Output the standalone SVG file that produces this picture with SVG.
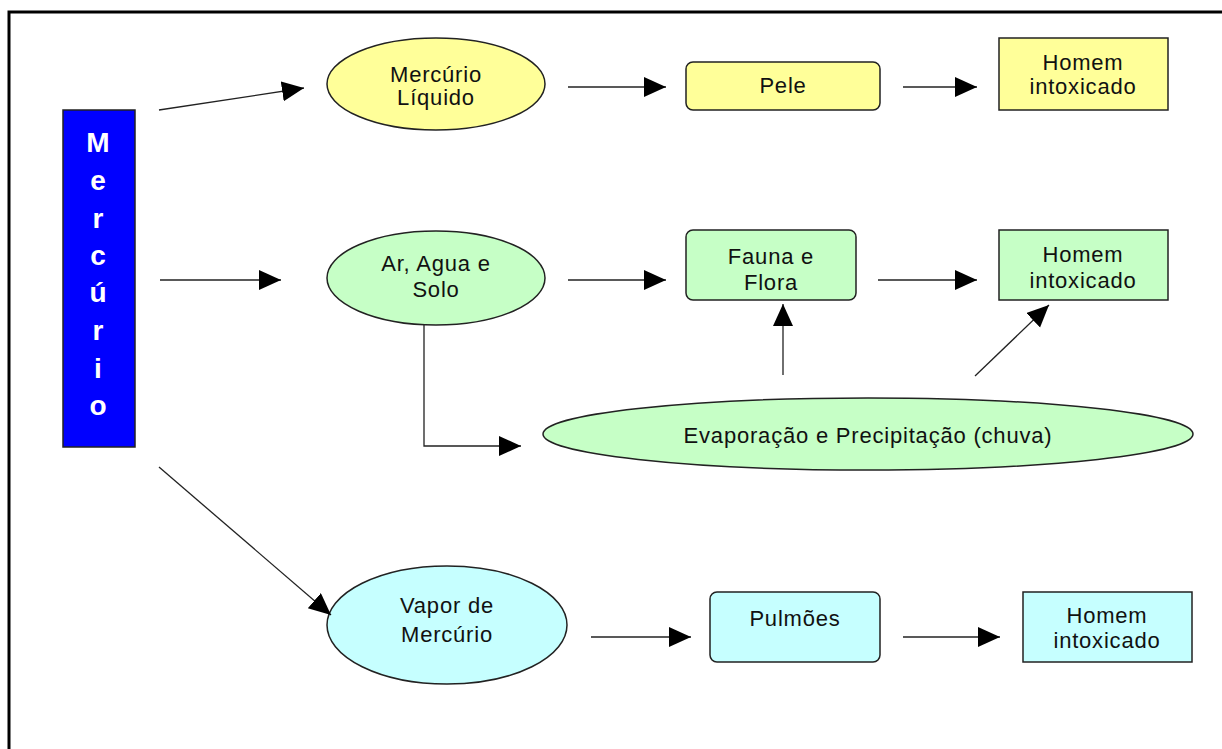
<svg xmlns="http://www.w3.org/2000/svg" width="1222" height="749" viewBox="0 0 1222 749">
<style>
.t{font-family:"Liberation Sans",Arial,sans-serif;font-size:22px;fill:#111;text-anchor:middle;letter-spacing:0.8px}
.m{font-family:"Liberation Sans",Arial,sans-serif;font-size:28px;font-weight:bold;fill:#fff;text-anchor:middle}
.sh{stroke:#222;stroke-width:1.5}
.y{fill:#ffff99}.g{fill:#c6ffc6}.c{fill:#c6ffff}
.ln{fill:none;stroke:#222;stroke-width:1.3}
</style>
<defs>
<marker id="ah" markerUnits="userSpaceOnUse" markerWidth="24" markerHeight="22" refX="22" refY="10" orient="auto">
<path d="M0,0 L22,10 L0,20 Z" fill="#000"/>
</marker>
</defs>
<rect x="0" y="0" width="1222" height="749" fill="#fff"/>
<rect x="9" y="12" width="1240" height="770" fill="none" stroke="#000" stroke-width="3"/>

<g id="mercurio">
<rect x="63" y="110" width="72" height="337" fill="#0000ff" stroke="#222" stroke-width="1.5"/>
<text class="m" x="98" y="152">M</text>
<text class="m" x="98" y="190">e</text>
<text class="m" x="98" y="228">r</text>
<text class="m" x="98" y="265">c</text>
<text class="m" x="98" y="302">ú</text>
<text class="m" x="98" y="340">r</text>
<text class="m" x="98" y="378">i</text>
<text class="m" x="98" y="415">o</text>
</g>

<g id="liquido">
<ellipse cx="436" cy="84" rx="109" ry="46" class="y sh"/>
<text class="t" x="436" y="82">Mercúrio</text>
<text class="t" x="436" y="105">Líquido</text>
</g>
<g id="pele">
<rect x="686" y="62" width="194" height="48" rx="7" class="y sh"/>
<text class="t" x="783" y="93">Pele</text>
</g>
<g id="homem1">
<rect x="999" y="38" width="169" height="72" class="y sh"/>
<text class="t" x="1083" y="70">Homem</text>
<text class="t" x="1083" y="94">intoxicado</text>
</g>

<g id="arAguaSolo">
<ellipse cx="436" cy="278" rx="109" ry="47" class="g sh"/>
<text class="t" x="436" y="271">Ar, Agua e</text>
<text class="t" x="436" y="297">Solo</text>
</g>
<g id="faunaFlora">
<rect x="686" y="230" width="170" height="70" rx="7" class="g sh"/>
<text class="t" x="771" y="264">Fauna e</text>
<text class="t" x="771" y="290">Flora</text>
</g>
<g id="homem2">
<rect x="999" y="230" width="169" height="70" class="g sh"/>
<text class="t" x="1083" y="262">Homem</text>
<text class="t" x="1083" y="288">intoxicado</text>
</g>
<g id="evaporacao">
<ellipse cx="868" cy="434" rx="325" ry="36" class="g sh"/>
<text class="t" x="868" y="443">Evaporação e Precipitação (chuva)</text>
</g>

<g id="vapor">
<ellipse cx="447" cy="625" rx="120" ry="59" class="c sh"/>
<text class="t" x="447" y="613">Vapor de</text>
<text class="t" x="447" y="642">Mercúrio</text>
</g>
<g id="pulmoes">
<rect x="710" y="592" width="170" height="70" rx="7" class="c sh"/>
<text class="t" x="795" y="626">Pulmões</text>
</g>
<g id="homem3">
<rect x="1023" y="592" width="169" height="70" class="c sh"/>
<text class="t" x="1107" y="623">Homem</text>
<text class="t" x="1107" y="648">intoxicado</text>
</g>

<g id="connectors">
<line class="ln" x1="159" y1="110" x2="304" y2="88" marker-end="url(#ah)"/>
<line class="ln" x1="568" y1="87" x2="666" y2="87" marker-end="url(#ah)"/>
<line class="ln" x1="903" y1="87" x2="977" y2="87" marker-end="url(#ah)"/>
<line class="ln" x1="160" y1="280" x2="281" y2="280" marker-end="url(#ah)"/>
<line class="ln" x1="568" y1="280" x2="666" y2="280" marker-end="url(#ah)"/>
<line class="ln" x1="878" y1="280" x2="977" y2="280" marker-end="url(#ah)"/>
<polyline class="ln" points="424,325 424,446 521,446" marker-end="url(#ah)"/>
<line class="ln" x1="783" y1="375" x2="783" y2="304" marker-end="url(#ah)"/>
<line class="ln" x1="975" y1="376" x2="1049" y2="305" marker-end="url(#ah)"/>
<line class="ln" x1="159" y1="467" x2="331" y2="615" marker-end="url(#ah)"/>
<line class="ln" x1="591" y1="637" x2="691" y2="637" marker-end="url(#ah)"/>
<line class="ln" x1="903" y1="637" x2="1000" y2="637" marker-end="url(#ah)"/>
</g>
</svg>
